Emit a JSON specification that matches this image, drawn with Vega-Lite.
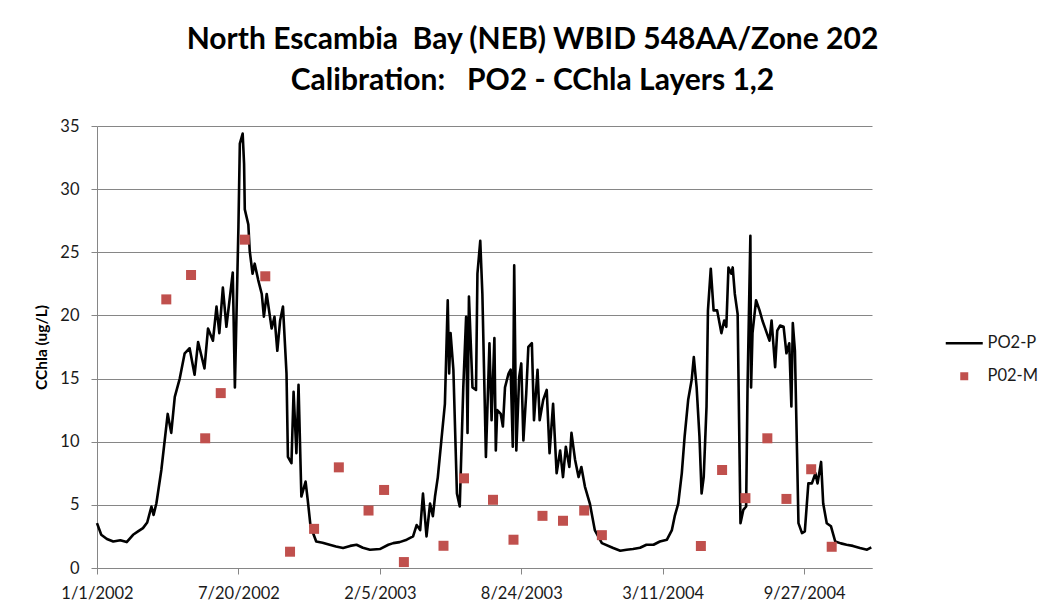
{
  "$schema": "https://vega.github.io/schema/vega-lite/v6.json",
  "width": 775,
  "height": 442,
  "autosize": {"type": "none"},
  "padding": {"left": 97, "top": 126, "right": 172, "bottom": 46},
  "background": "white",
  "config": {"font": "Lato", "view": {"stroke": null}},
  "title": {
    "text": ["North Escambia\u00a0 Bay (NEB) WBID 548AA/Zone 202", "Calibration:\u00a0\u00a0 PO2 - CChla Layers 1,2"],
    "fontSize": 30,
    "fontWeight": "bold",
    "font": "Lato",
    "color": "#000000",
    "anchor": "middle",
    "dx": 48,
    "offset": 22,
    "lineHeight": 41
  },
  "datasets": {
    "line": [
      {"date": "2002-01-01", "value": 3.55, "series": "PO2-P"},
      {"date": "2002-01-07", "value": 2.63, "series": "PO2-P"},
      {"date": "2002-01-15", "value": 2.3, "series": "PO2-P"},
      {"date": "2002-01-24", "value": 2.1, "series": "PO2-P"},
      {"date": "2002-02-03", "value": 2.2, "series": "PO2-P"},
      {"date": "2002-02-12", "value": 2.05, "series": "PO2-P"},
      {"date": "2002-02-21", "value": 2.63, "series": "PO2-P"},
      {"date": "2002-02-28", "value": 2.9, "series": "PO2-P"},
      {"date": "2002-03-07", "value": 3.16, "series": "PO2-P"},
      {"date": "2002-03-13", "value": 3.6, "series": "PO2-P"},
      {"date": "2002-03-19", "value": 4.87, "series": "PO2-P"},
      {"date": "2002-03-22", "value": 4.2, "series": "PO2-P"},
      {"date": "2002-03-26", "value": 5.13, "series": "PO2-P"},
      {"date": "2002-04-02", "value": 7.76, "series": "PO2-P"},
      {"date": "2002-04-11", "value": 12.2, "series": "PO2-P"},
      {"date": "2002-04-16", "value": 10.7, "series": "PO2-P"},
      {"date": "2002-04-21", "value": 13.55, "series": "PO2-P"},
      {"date": "2002-04-28", "value": 15.0, "series": "PO2-P"},
      {"date": "2002-05-05", "value": 17.0, "series": "PO2-P"},
      {"date": "2002-05-12", "value": 17.4, "series": "PO2-P"},
      {"date": "2002-05-19", "value": 15.3, "series": "PO2-P"},
      {"date": "2002-05-24", "value": 17.9, "series": "PO2-P"},
      {"date": "2002-06-02", "value": 15.8, "series": "PO2-P"},
      {"date": "2002-06-07", "value": 18.96, "series": "PO2-P"},
      {"date": "2002-06-14", "value": 18.0, "series": "PO2-P"},
      {"date": "2002-06-19", "value": 20.7, "series": "PO2-P"},
      {"date": "2002-06-23", "value": 18.6, "series": "PO2-P"},
      {"date": "2002-06-28", "value": 22.2, "series": "PO2-P"},
      {"date": "2002-07-03", "value": 19.1, "series": "PO2-P"},
      {"date": "2002-07-12", "value": 23.4, "series": "PO2-P"},
      {"date": "2002-07-15", "value": 14.3, "series": "PO2-P"},
      {"date": "2002-07-20", "value": 27.0, "series": "PO2-P"},
      {"date": "2002-07-22", "value": 33.6, "series": "PO2-P"},
      {"date": "2002-07-26", "value": 34.4, "series": "PO2-P"},
      {"date": "2002-07-28", "value": 32.0, "series": "PO2-P"},
      {"date": "2002-07-29", "value": 28.4, "series": "PO2-P"},
      {"date": "2002-08-03", "value": 27.2, "series": "PO2-P"},
      {"date": "2002-08-05", "value": 25.1, "series": "PO2-P"},
      {"date": "2002-08-09", "value": 23.3, "series": "PO2-P"},
      {"date": "2002-08-12", "value": 24.1, "series": "PO2-P"},
      {"date": "2002-08-17", "value": 22.8, "series": "PO2-P"},
      {"date": "2002-08-22", "value": 21.7, "series": "PO2-P"},
      {"date": "2002-08-25", "value": 19.9, "series": "PO2-P"},
      {"date": "2002-08-29", "value": 21.7, "series": "PO2-P"},
      {"date": "2002-09-05", "value": 18.96, "series": "PO2-P"},
      {"date": "2002-09-09", "value": 19.9, "series": "PO2-P"},
      {"date": "2002-09-13", "value": 17.2, "series": "PO2-P"},
      {"date": "2002-09-17", "value": 19.6, "series": "PO2-P"},
      {"date": "2002-09-21", "value": 20.7, "series": "PO2-P"},
      {"date": "2002-09-26", "value": 15.4, "series": "PO2-P"},
      {"date": "2002-09-28", "value": 8.8, "series": "PO2-P"},
      {"date": "2002-10-03", "value": 8.3, "series": "PO2-P"},
      {"date": "2002-10-06", "value": 13.95, "series": "PO2-P"},
      {"date": "2002-10-10", "value": 9.1, "series": "PO2-P"},
      {"date": "2002-10-13", "value": 14.5, "series": "PO2-P"},
      {"date": "2002-10-17", "value": 5.66, "series": "PO2-P"},
      {"date": "2002-10-23", "value": 6.84, "series": "PO2-P"},
      {"date": "2002-10-26", "value": 5.4, "series": "PO2-P"},
      {"date": "2002-10-30", "value": 3.3, "series": "PO2-P"},
      {"date": "2002-11-07", "value": 2.1, "series": "PO2-P"},
      {"date": "2002-11-16", "value": 2.0, "series": "PO2-P"},
      {"date": "2002-11-26", "value": 1.84, "series": "PO2-P"},
      {"date": "2002-12-05", "value": 1.7, "series": "PO2-P"},
      {"date": "2002-12-15", "value": 1.58, "series": "PO2-P"},
      {"date": "2002-12-25", "value": 1.75, "series": "PO2-P"},
      {"date": "2003-01-03", "value": 1.84, "series": "PO2-P"},
      {"date": "2003-01-12", "value": 1.6, "series": "PO2-P"},
      {"date": "2003-01-22", "value": 1.45, "series": "PO2-P"},
      {"date": "2003-02-05", "value": 1.5, "series": "PO2-P"},
      {"date": "2003-02-17", "value": 1.84, "series": "PO2-P"},
      {"date": "2003-02-24", "value": 1.97, "series": "PO2-P"},
      {"date": "2003-03-05", "value": 2.05, "series": "PO2-P"},
      {"date": "2003-03-15", "value": 2.24, "series": "PO2-P"},
      {"date": "2003-03-24", "value": 2.5, "series": "PO2-P"},
      {"date": "2003-03-29", "value": 3.4, "series": "PO2-P"},
      {"date": "2003-04-03", "value": 3.0, "series": "PO2-P"},
      {"date": "2003-04-07", "value": 5.9, "series": "PO2-P"},
      {"date": "2003-04-12", "value": 2.5, "series": "PO2-P"},
      {"date": "2003-04-17", "value": 5.1, "series": "PO2-P"},
      {"date": "2003-04-21", "value": 4.1, "series": "PO2-P"},
      {"date": "2003-04-24", "value": 5.66, "series": "PO2-P"},
      {"date": "2003-04-28", "value": 7.2, "series": "PO2-P"},
      {"date": "2003-05-03", "value": 10.1, "series": "PO2-P"},
      {"date": "2003-05-08", "value": 13.0, "series": "PO2-P"},
      {"date": "2003-05-12", "value": 21.2, "series": "PO2-P"},
      {"date": "2003-05-14", "value": 15.4, "series": "PO2-P"},
      {"date": "2003-05-16", "value": 18.6, "series": "PO2-P"},
      {"date": "2003-05-20", "value": 15.7, "series": "PO2-P"},
      {"date": "2003-05-25", "value": 5.9, "series": "PO2-P"},
      {"date": "2003-05-29", "value": 4.87, "series": "PO2-P"},
      {"date": "2003-06-03", "value": 14.3, "series": "PO2-P"},
      {"date": "2003-06-07", "value": 19.9, "series": "PO2-P"},
      {"date": "2003-06-09", "value": 10.7, "series": "PO2-P"},
      {"date": "2003-06-11", "value": 21.5, "series": "PO2-P"},
      {"date": "2003-06-16", "value": 14.3, "series": "PO2-P"},
      {"date": "2003-06-21", "value": 14.1, "series": "PO2-P"},
      {"date": "2003-06-23", "value": 23.3, "series": "PO2-P"},
      {"date": "2003-06-27", "value": 25.9, "series": "PO2-P"},
      {"date": "2003-06-30", "value": 21.7, "series": "PO2-P"},
      {"date": "2003-07-05", "value": 8.8, "series": "PO2-P"},
      {"date": "2003-07-10", "value": 17.8, "series": "PO2-P"},
      {"date": "2003-07-13", "value": 11.7, "series": "PO2-P"},
      {"date": "2003-07-17", "value": 18.2, "series": "PO2-P"},
      {"date": "2003-07-19", "value": 9.3, "series": "PO2-P"},
      {"date": "2003-07-21", "value": 12.5, "series": "PO2-P"},
      {"date": "2003-07-26", "value": 12.2, "series": "PO2-P"},
      {"date": "2003-07-29", "value": 11.2, "series": "PO2-P"},
      {"date": "2003-08-01", "value": 14.3, "series": "PO2-P"},
      {"date": "2003-08-06", "value": 15.4, "series": "PO2-P"},
      {"date": "2003-08-09", "value": 15.7, "series": "PO2-P"},
      {"date": "2003-08-12", "value": 9.6, "series": "PO2-P"},
      {"date": "2003-08-14", "value": 23.96, "series": "PO2-P"},
      {"date": "2003-08-17", "value": 9.3, "series": "PO2-P"},
      {"date": "2003-08-21", "value": 15.1, "series": "PO2-P"},
      {"date": "2003-08-24", "value": 16.2, "series": "PO2-P"},
      {"date": "2003-08-27", "value": 10.1, "series": "PO2-P"},
      {"date": "2003-08-31", "value": 13.8, "series": "PO2-P"},
      {"date": "2003-09-03", "value": 17.5, "series": "PO2-P"},
      {"date": "2003-09-08", "value": 17.8, "series": "PO2-P"},
      {"date": "2003-09-11", "value": 11.7, "series": "PO2-P"},
      {"date": "2003-09-16", "value": 15.7, "series": "PO2-P"},
      {"date": "2003-09-19", "value": 11.7, "series": "PO2-P"},
      {"date": "2003-09-24", "value": 13.3, "series": "PO2-P"},
      {"date": "2003-09-29", "value": 14.1, "series": "PO2-P"},
      {"date": "2003-10-03", "value": 9.1, "series": "PO2-P"},
      {"date": "2003-10-08", "value": 13.0, "series": "PO2-P"},
      {"date": "2003-10-13", "value": 7.5, "series": "PO2-P"},
      {"date": "2003-10-18", "value": 9.3, "series": "PO2-P"},
      {"date": "2003-10-22", "value": 7.2, "series": "PO2-P"},
      {"date": "2003-10-26", "value": 9.6, "series": "PO2-P"},
      {"date": "2003-10-31", "value": 8.0, "series": "PO2-P"},
      {"date": "2003-11-03", "value": 10.7, "series": "PO2-P"},
      {"date": "2003-11-08", "value": 8.6, "series": "PO2-P"},
      {"date": "2003-11-13", "value": 7.2, "series": "PO2-P"},
      {"date": "2003-11-17", "value": 8.0, "series": "PO2-P"},
      {"date": "2003-11-22", "value": 6.45, "series": "PO2-P"},
      {"date": "2003-11-29", "value": 5.1, "series": "PO2-P"},
      {"date": "2003-12-06", "value": 3.0, "series": "PO2-P"},
      {"date": "2003-12-16", "value": 1.97, "series": "PO2-P"},
      {"date": "2004-01-01", "value": 1.58, "series": "PO2-P"},
      {"date": "2004-01-11", "value": 1.37, "series": "PO2-P"},
      {"date": "2004-01-20", "value": 1.45, "series": "PO2-P"},
      {"date": "2004-01-29", "value": 1.5, "series": "PO2-P"},
      {"date": "2004-02-08", "value": 1.6, "series": "PO2-P"},
      {"date": "2004-02-17", "value": 1.84, "series": "PO2-P"},
      {"date": "2004-02-27", "value": 1.84, "series": "PO2-P"},
      {"date": "2004-03-07", "value": 2.1, "series": "PO2-P"},
      {"date": "2004-03-17", "value": 2.24, "series": "PO2-P"},
      {"date": "2004-03-24", "value": 3.0, "series": "PO2-P"},
      {"date": "2004-03-28", "value": 4.1, "series": "PO2-P"},
      {"date": "2004-04-02", "value": 5.1, "series": "PO2-P"},
      {"date": "2004-04-07", "value": 7.5, "series": "PO2-P"},
      {"date": "2004-04-11", "value": 10.4, "series": "PO2-P"},
      {"date": "2004-04-16", "value": 13.3, "series": "PO2-P"},
      {"date": "2004-04-21", "value": 14.9, "series": "PO2-P"},
      {"date": "2004-04-24", "value": 16.7, "series": "PO2-P"},
      {"date": "2004-04-28", "value": 14.3, "series": "PO2-P"},
      {"date": "2004-05-02", "value": 10.4, "series": "PO2-P"},
      {"date": "2004-05-05", "value": 5.9, "series": "PO2-P"},
      {"date": "2004-05-08", "value": 7.2, "series": "PO2-P"},
      {"date": "2004-05-12", "value": 12.8, "series": "PO2-P"},
      {"date": "2004-05-14", "value": 20.4, "series": "PO2-P"},
      {"date": "2004-05-18", "value": 23.7, "series": "PO2-P"},
      {"date": "2004-05-22", "value": 20.4, "series": "PO2-P"},
      {"date": "2004-05-27", "value": 20.4, "series": "PO2-P"},
      {"date": "2004-06-02", "value": 18.6, "series": "PO2-P"},
      {"date": "2004-06-06", "value": 19.6, "series": "PO2-P"},
      {"date": "2004-06-09", "value": 19.1, "series": "PO2-P"},
      {"date": "2004-06-12", "value": 23.8, "series": "PO2-P"},
      {"date": "2004-06-16", "value": 23.3, "series": "PO2-P"},
      {"date": "2004-06-18", "value": 23.8, "series": "PO2-P"},
      {"date": "2004-06-21", "value": 21.7, "series": "PO2-P"},
      {"date": "2004-06-25", "value": 20.1, "series": "PO2-P"},
      {"date": "2004-06-27", "value": 11.7, "series": "PO2-P"},
      {"date": "2004-06-29", "value": 3.55, "series": "PO2-P"},
      {"date": "2004-07-03", "value": 4.6, "series": "PO2-P"},
      {"date": "2004-07-07", "value": 4.87, "series": "PO2-P"},
      {"date": "2004-07-09", "value": 14.3, "series": "PO2-P"},
      {"date": "2004-07-13", "value": 26.3, "series": "PO2-P"},
      {"date": "2004-07-14", "value": 14.3, "series": "PO2-P"},
      {"date": "2004-07-16", "value": 18.6, "series": "PO2-P"},
      {"date": "2004-07-21", "value": 21.2, "series": "PO2-P"},
      {"date": "2004-07-26", "value": 20.4, "series": "PO2-P"},
      {"date": "2004-07-30", "value": 19.6, "series": "PO2-P"},
      {"date": "2004-08-04", "value": 18.8, "series": "PO2-P"},
      {"date": "2004-08-09", "value": 18.0, "series": "PO2-P"},
      {"date": "2004-08-12", "value": 19.6, "series": "PO2-P"},
      {"date": "2004-08-17", "value": 15.9, "series": "PO2-P"},
      {"date": "2004-08-20", "value": 18.8, "series": "PO2-P"},
      {"date": "2004-08-24", "value": 19.2, "series": "PO2-P"},
      {"date": "2004-08-29", "value": 19.1, "series": "PO2-P"},
      {"date": "2004-09-02", "value": 17.0, "series": "PO2-P"},
      {"date": "2004-09-06", "value": 17.8, "series": "PO2-P"},
      {"date": "2004-09-09", "value": 12.8, "series": "PO2-P"},
      {"date": "2004-09-11", "value": 19.4, "series": "PO2-P"},
      {"date": "2004-09-14", "value": 17.2, "series": "PO2-P"},
      {"date": "2004-09-17", "value": 9.1, "series": "PO2-P"},
      {"date": "2004-09-19", "value": 3.55, "series": "PO2-P"},
      {"date": "2004-09-24", "value": 2.76, "series": "PO2-P"},
      {"date": "2004-09-28", "value": 2.9, "series": "PO2-P"},
      {"date": "2004-10-03", "value": 6.7, "series": "PO2-P"},
      {"date": "2004-10-08", "value": 6.7, "series": "PO2-P"},
      {"date": "2004-10-13", "value": 7.5, "series": "PO2-P"},
      {"date": "2004-10-16", "value": 6.7, "series": "PO2-P"},
      {"date": "2004-10-21", "value": 8.4, "series": "PO2-P"},
      {"date": "2004-10-24", "value": 5.1, "series": "PO2-P"},
      {"date": "2004-10-29", "value": 3.55, "series": "PO2-P"},
      {"date": "2004-11-04", "value": 3.3, "series": "PO2-P"},
      {"date": "2004-11-10", "value": 2.1, "series": "PO2-P"},
      {"date": "2004-11-18", "value": 1.95, "series": "PO2-P"},
      {"date": "2004-11-26", "value": 1.84, "series": "PO2-P"},
      {"date": "2004-12-05", "value": 1.75, "series": "PO2-P"},
      {"date": "2004-12-15", "value": 1.58, "series": "PO2-P"},
      {"date": "2004-12-25", "value": 1.45, "series": "PO2-P"},
      {"date": "2004-12-31", "value": 1.63, "series": "PO2-P"}
    ],
    "pts": [
      {"date": "2002-04-09", "value": 21.27, "series": "P02-M"},
      {"date": "2002-05-14", "value": 23.2, "series": "P02-M"},
      {"date": "2002-06-03", "value": 10.27, "series": "P02-M"},
      {"date": "2002-06-25", "value": 13.85, "series": "P02-M"},
      {"date": "2002-07-29", "value": 26.0, "series": "P02-M"},
      {"date": "2002-08-27", "value": 23.1, "series": "P02-M"},
      {"date": "2002-10-01", "value": 1.29, "series": "P02-M"},
      {"date": "2002-11-04", "value": 3.1, "series": "P02-M"},
      {"date": "2002-12-09", "value": 7.97, "series": "P02-M"},
      {"date": "2003-01-20", "value": 4.55, "series": "P02-M"},
      {"date": "2003-02-11", "value": 6.18, "series": "P02-M"},
      {"date": "2003-03-11", "value": 0.47, "series": "P02-M"},
      {"date": "2003-05-06", "value": 1.76, "series": "P02-M"},
      {"date": "2003-06-04", "value": 7.1, "series": "P02-M"},
      {"date": "2003-07-15", "value": 5.4, "series": "P02-M"},
      {"date": "2003-08-13", "value": 2.24, "series": "P02-M"},
      {"date": "2003-09-23", "value": 4.13, "series": "P02-M"},
      {"date": "2003-10-22", "value": 3.74, "series": "P02-M"},
      {"date": "2003-11-21", "value": 4.55, "series": "P02-M"},
      {"date": "2003-12-16", "value": 2.6, "series": "P02-M"},
      {"date": "2004-05-04", "value": 1.74, "series": "P02-M"},
      {"date": "2004-06-03", "value": 7.76, "series": "P02-M"},
      {"date": "2004-07-06", "value": 5.53, "series": "P02-M"},
      {"date": "2004-08-06", "value": 10.27, "series": "P02-M"},
      {"date": "2004-09-02", "value": 5.47, "series": "P02-M"},
      {"date": "2004-10-07", "value": 7.82, "series": "P02-M"},
      {"date": "2004-11-05", "value": 1.68, "series": "P02-M"}
    ]
  },
  "encoding": {
    "x": {
      "field": "date",
      "type": "temporal",
      "scale": {
        "type": "utc",
        "domain": [
          {"year": 2002, "month": 1, "date": 1, "utc": true},
          {"year": 2005, "month": 1, "date": 1, "utc": true}
        ]
      },
      "axis": {
        "title": null,
        "values": [
          {"year": 2002, "month": 1, "date": 1, "utc": true},
          {"year": 2002, "month": 7, "date": 20, "utc": true},
          {"year": 2003, "month": 2, "date": 5, "utc": true},
          {"year": 2003, "month": 8, "date": 24, "utc": true},
          {"year": 2004, "month": 3, "date": 11, "utc": true},
          {"year": 2004, "month": 9, "date": 27, "utc": true}
        ],
        "format": "%-m/%-d/%Y",
        "grid": false,
        "domainColor": "#868686",
        "tickColor": "#868686",
        "tickSize": 6,
        "labelFontSize": 16.5,
        "labelColor": "#1a1a1a",
        "labelPadding": 11,
        "labelFlush": false,
        "labelOverlap": false
      }
    },
    "y": {
      "field": "value",
      "type": "quantitative",
      "scale": {"domain": [0, 35], "nice": false, "zero": true},
      "axis": {
        "title": "CChla (ug/L)",
        "values": [0, 5, 10, 15, 20, 25, 30, 35],
        "grid": true,
        "gridColor": "#868686",
        "gridWidth": 1,
        "domainColor": "#868686",
        "tickColor": "#868686",
        "tickSize": 6,
        "labelFontSize": 16.5,
        "labelColor": "#1a1a1a",
        "labelPadding": 12,
        "titleFontSize": 15.5,
        "titleFontWeight": "bold",
        "titleColor": "#000000",
        "titlePadding": 10
      }
    },
    "color": {
      "field": "series",
      "type": "nominal",
      "scale": {"domain": ["PO2-P", "P02-M"], "range": ["#000000", "#C0504D"]},
      "legend": {
        "title": null,
        "orient": "none",
        "legendX": 859,
        "legendY": 209,
        "padding": 0,
        "labelFontSize": 16.5,
        "labelColor": "#1a1a1a",
        "labelOffset": 15,
        "rowPadding": 16,
        "symbolStrokeWidth": 2.5,
        "encode": {
          "symbols": {
            "update": {
              "shape": {"signal": "datum.value === 'PO2-P' ? 'stroke' : 'square'"},
              "size": {"signal": "datum.value === 'PO2-P' ? 1369 : 64"},
              "strokeWidth": {"signal": "datum.value === 'PO2-P' ? 2.5 : 0"},
              "stroke": {"signal": "datum.value === 'PO2-P' ? '#000000' : 'transparent'"},
              "fill": {"signal": "datum.value === 'PO2-P' ? 'transparent' : '#C0504D'"},
              "opacity": {"value": 1}
            }
          }
        }
      }
    }
  },
  "layer": [
    {
      "data": {"name": "line"},
      "mark": {"type": "line", "strokeWidth": 2.6, "strokeJoin": "round"}
    },
    {
      "data": {"name": "pts"},
      "mark": {"type": "square", "size": 100, "filled": true, "opacity": 1}
    }
  ]
}
